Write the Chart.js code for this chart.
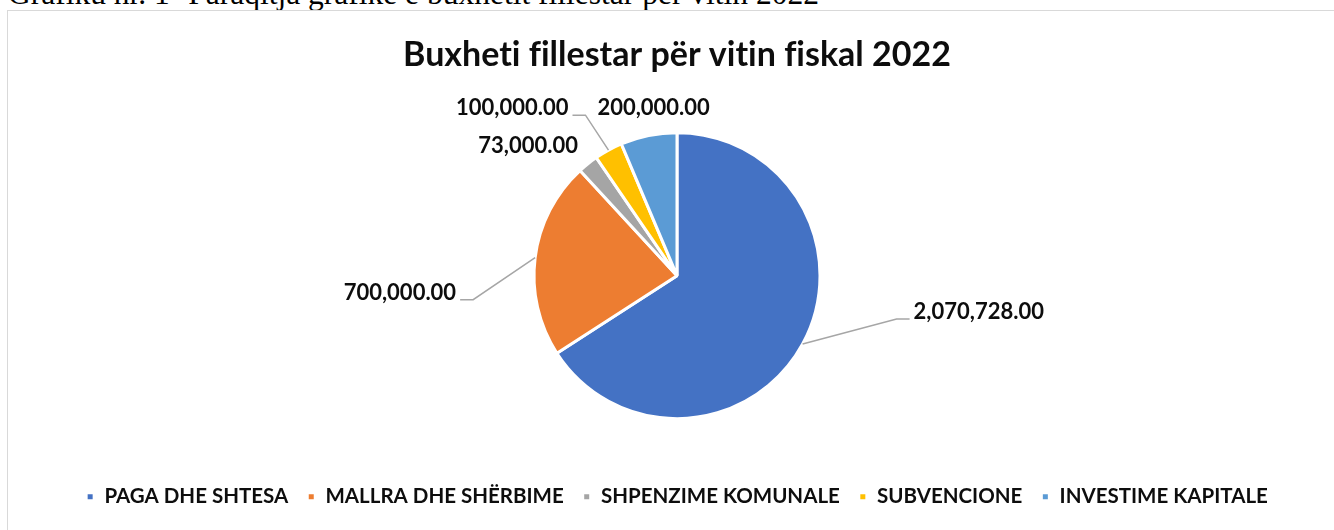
<!DOCTYPE html>
<html>
<head>
<meta charset="utf-8">
<script src="https://cdn.jsdelivr.net/npm/chart.js@4"></script>
<style>
  html, body { margin: 0; padding: 0; background: #fff; overflow: hidden; }
  #caption {
    position: absolute; left: 8px; top: -22px; white-space: nowrap;
    font-family: "Liberation Serif", serif; font-size: 31.5px; line-height: 31.5px; color: #000;
  }
  #frame {
    position: absolute; left: 7px; top: 10px; width: 1340px; height: 540px;
    border: 1.5px solid #d9d9d9; box-sizing: border-box;
  }
  #wrap { position: absolute; left: 0; top: 0; width: 1334px; height: 530px; }
</style>
</head>
<body>
<div id="caption">Grafiku nr. 1- Paraqitja grafike e buxhetit fillestar për vitin 2022</div>
<div id="frame"></div>
<div id="wrap"><canvas id="pie"></canvas></div>
<script>
// data
const categories = ['PAGA DHE SHTESA', 'MALLRA DHE SHËRBIME', 'SHPENZIME KOMUNALE', 'SUBVENCIONE', 'INVESTIME KAPITALE'];
const amounts    = [2070728, 700000, 73000, 100000, 200000];
const colors     = ['#4472C4', '#ED7D31', '#A5A5A5', '#FFC000', '#5B9BD5'];
const chartTitle = 'Buxheti fillestar për vitin fiskal 2022';

const fmt = v => v.toLocaleString('en-US', { minimumFractionDigits: 2, maximumFractionDigits: 2 });

// label placement relative to the slice's outer edge midpoint
const labelPlace = [
  { dx: 111, dy: -32, align: 'left',   leader: true },
  { dx: -79, dy: 35,  align: 'right',  leader: true },
  { dx: -10, dy: -18, align: 'right',  leader: false },
  { dx: -40, dy: -42, align: 'right',  leader: true },
  { dx: 5,   dy: -28, align: 'center', leader: false }
];

const outsideLabels = {
  id: 'outsideLabels',
  afterDatasetsDraw(chart) {
    const ctx = chart.ctx;
    const meta = chart.getDatasetMeta(0);
    ctx.save();
    ctx.font = 'bold 22px Lato, "Open Sans", sans-serif';
    ctx.textBaseline = 'middle';
    meta.data.forEach((arc, i) => {
      const p = arc.getProps(['x', 'y', 'startAngle', 'endAngle', 'outerRadius'], true);
      const mid = (p.startAngle + p.endAngle) / 2;
      const ex = p.x + Math.cos(mid) * p.outerRadius;
      const ey = p.y + Math.sin(mid) * p.outerRadius;
      const pl = labelPlace[i];
      const tx = ex + pl.dx, ty = ey + pl.dy;
      if (pl.leader) {
        const dir = pl.align === 'left' ? -1 : 1;
        const lineY = ty + 7;
        ctx.strokeStyle = '#a6a6a6';
        ctx.lineWidth = 1.5;
        ctx.beginPath();
        ctx.moveTo(tx + dir * 4, lineY);
        ctx.lineTo(tx + dir * 17, lineY);
        ctx.lineTo(ex, ey);
        ctx.stroke();
      }
      ctx.fillStyle = '#0d0d0d';
      ctx.textAlign = pl.align;
      ctx.fillText(fmt(amounts[i]), tx, ty);
    });
    ctx.restore();
  }
};

new Chart(document.getElementById('pie'), {
  type: 'pie',
  data: {
    labels: categories,
    datasets: [{
      data: amounts,
      backgroundColor: colors,
      borderColor: '#fff',
      borderWidth: 3,
      radius: 143
    }]
  },
  options: {
    responsive: true,
    maintainAspectRatio: false,
    animation: false,
    layout: { padding: { left: 20, right: 0, top: 0, bottom: 13 } },
    plugins: {
      title: {
        display: true,
        // break the Lato fi/ti ligatures so it reads like the original
        text: chartTitle.replace(/f(?=i)/g, 'f\u200C').replace(/t(?=i)/g, 't\u200C'),
        color: '#0d0d0d',
        font: { family: 'Lato, "Open Sans", sans-serif', size: 34, weight: 'bold' },
        padding: { top: 35, bottom: 8 }
      },
      legend: {
        position: 'bottom',
        labels: {
          color: '#0d0d0d',
          font: { family: 'Lato, "Open Sans", sans-serif', size: 20.5, weight: 'bold' },
          boxWidth: 8,
          boxHeight: 8,
          padding: 19
        }
      },
      tooltip: { enabled: false }
    }
  },
  plugins: [outsideLabels]
});
</script>
</body>
</html>
